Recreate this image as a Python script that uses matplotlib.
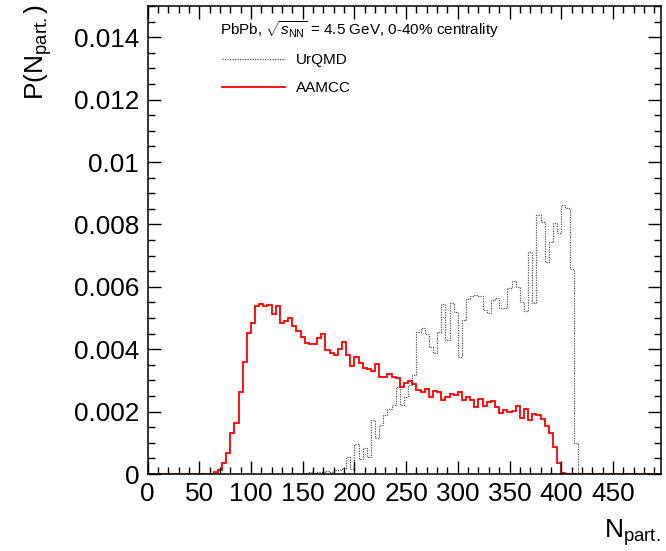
import numpy as np
import matplotlib
matplotlib.use('Agg')
import matplotlib.pyplot as plt
from matplotlib.ticker import MultipleLocator, FuncFormatter

plt.rcParams['font.family'] = ['Liberation Sans', 'DejaVu Sans']
plt.rcParams['mathtext.fontset'] = 'custom'
plt.rcParams['mathtext.rm'] = 'Liberation Sans'
plt.rcParams['mathtext.it'] = 'Liberation Sans:italic'

# гистограммы, бины по 4 от 0 до 496
bin_width = 4
n_bins = 124

aamcc_start = 16
aamcc = [
    0.00005, 0.00013, 0.00034, 0.00066, 0.00132, 0.00163, 0.00264, 0.0036,
    0.00453, 0.00483, 0.0054, 0.00544, 0.00538, 0.00541, 0.00513, 0.00538,
    0.00483, 0.0049, 0.005, 0.00474, 0.0046, 0.0044, 0.0042, 0.00416,
    0.00417, 0.00435, 0.0045, 0.00397, 0.00389, 0.00381, 0.004, 0.00422,
    0.00381, 0.00345, 0.00375, 0.00356, 0.00341, 0.00337, 0.00331, 0.00352,
    0.0031, 0.00312, 0.0032, 0.00312, 0.00307, 0.0028, 0.00293, 0.00297,
    0.00288, 0.00269, 0.00264, 0.00271, 0.00248, 0.00266, 0.00264,
    0.00237, 0.00248, 0.00256, 0.00253, 0.00262, 0.00237, 0.00248, 0.00237,
    0.00216, 0.00239, 0.00218, 0.00232, 0.00235, 0.00216, 0.00197, 0.00205,
    0.002, 0.00203, 0.00218, 0.0018, 0.0021, 0.00173, 0.00192, 0.00189,
    0.00175, 0.00154, 0.0013, 0.00087, 0.00034, 0.00003,
]

urqmd_start = 38
urqmd = [
    0.00003, 0.00006, 0.00003, 0.00008, 0.00005, 0.0001, 0.00008, 0.00012,
    0.00013, 0.0002, 0.00055, 0.00016, 0.00096, 0.00047, 0.00082, 0.00054,
    0.00173, 0.00114, 0.00157, 0.00189, 0.00207, 0.00221, 0.0028, 0.00221,
    0.00248, 0.00285, 0.00317, 0.00456, 0.00467, 0.0045, 0.00408, 0.00387,
    0.00456, 0.00546, 0.00428, 0.00547, 0.0052, 0.00376, 0.00494, 0.0056,
    0.0057, 0.00574, 0.0057, 0.00526, 0.00517, 0.00558, 0.00563, 0.00531,
    0.00531, 0.00595, 0.0062, 0.006, 0.00552, 0.00523, 0.00713, 0.00547,
    0.0083, 0.00809, 0.0068, 0.00745, 0.00804, 0.00774, 0.00862, 0.00852,
    0.00656, 0.00098,
]


def to_hist(start, vals):
    h = np.zeros(n_bins)
    h[start:start + len(vals)] = vals
    return h


edges = np.arange(n_bins + 1) * bin_width
h_aamcc = to_hist(aamcc_start, aamcc)
h_urqmd = to_hist(urqmd_start, urqmd)

fig = plt.figure(figsize=(6.66, 5.51), dpi=100)
ax = fig.add_axes([0.2215, 0.1397, 0.7703, 0.8493])

ax.stairs(h_urqmd, edges, color='#555555', lw=0.9, linestyle=(0, (1, 1)),
          baseline=0, label='UrQMD')
ax.stairs(h_aamcc, edges, color='#ff0000', lw=1.3, baseline=0, label='AAMCC')

ax.set_xlim(0, 496)
ax.set_ylim(0, 0.015)

ax.xaxis.set_major_locator(MultipleLocator(50))
ax.xaxis.set_minor_locator(MultipleLocator(10))
ax.yaxis.set_major_locator(MultipleLocator(0.002))
ax.yaxis.set_minor_locator(MultipleLocator(0.0005))
ax.xaxis.set_major_formatter(FuncFormatter(lambda v, p: '%g' % v if v < 460 else ''))
ax.yaxis.set_major_formatter(FuncFormatter(lambda v, p: '%g' % round(v, 4)))

ax.tick_params(which='both', direction='in', top=True, right=True, width=1.0)
ax.tick_params(which='major', length=9.5, labelsize=18.8, pad=6)
ax.tick_params(which='minor', length=4.7)
for s in ax.spines.values():
    s.set_linewidth(1.1)

ax.text(-0.214, 1.003, 'P(N$_{\\mathregular{part.}}$)', transform=ax.transAxes,
        rotation=90, ha='center', va='top', fontsize=19)
ax.text(1.0, -0.092, 'N$_{\\mathregular{part.}}$', transform=ax.transAxes,
        ha='right', va='top', fontsize=19)

ax.text(0.1416, 0.949, 'PbPb, $\\sqrt{s_{\\mathregular{NN}}}$ = 4.5 GeV, 0-40% centrality',
        transform=ax.transAxes, ha='left', va='center', fontsize=11)

ax.legend(loc='upper left', bbox_to_anchor=(0.1455, 0.90), frameon=False,
          fontsize=11, handlelength=4.1, handletextpad=0.75, labelspacing=0.95,
          borderpad=0, borderaxespad=0)

fig.savefig('out.png', dpi=100)
